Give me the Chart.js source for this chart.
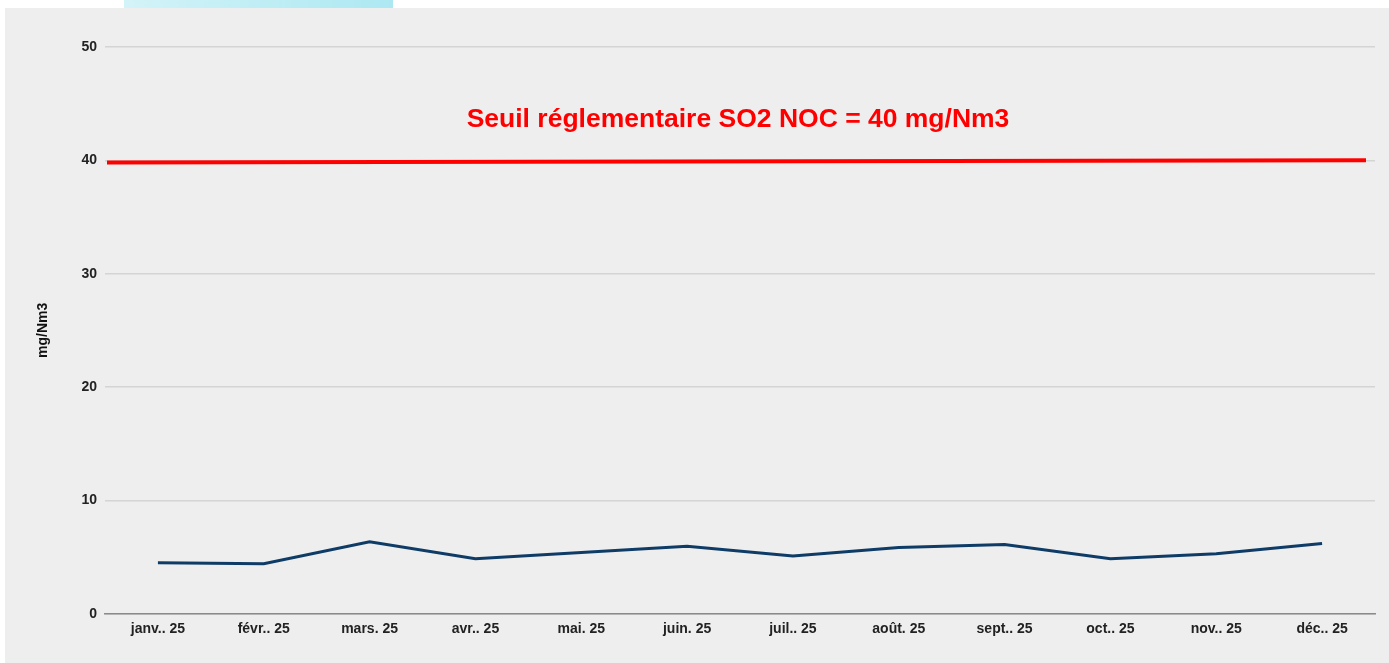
<!DOCTYPE html>
<html>
<head>
<meta charset="utf-8">
<script src="https://cdn.jsdelivr.net/npm/chart.js@4"></script>
<style>
  html, body { margin:0; padding:0; background:#fff; }
  body { width:1389px; height:663px; position:relative; overflow:hidden; }
  #tab { position:absolute; left:124px; top:0; width:269px; height:8px;
         background:linear-gradient(90deg,#d3f3f8,#ade8f2); }
  #panel { position:absolute; left:5px; top:8px; width:1384px; height:655px; background:#eeeeee; }
</style>
</head>
<body>
<div id="tab"></div>
<div id="panel"><canvas id="chart" width="1384" height="655"></canvas></div>
<script>
const months = ['janv.. 25','févr.. 25','mars. 25','avr.. 25','mai. 25','juin. 25',
                'juil.. 25','août. 25','sept.. 25','oct.. 25','nov.. 25','déc.. 25'];
const so2Values = [4.5, 4.4, 6.35, 4.85, 5.4, 5.95, 5.1, 5.85, 6.1, 4.85, 5.3, 6.2];
const thresholdValues = [39.8, 40];
const thresholdLabel = 'Seuil réglementaire SO2 NOC = 40 mg/Nm3';
const yTicks = [0, 10, 20, 30, 40, 50];

const tickFont = { family:'"Liberation Sans", Arial, sans-serif', size:14, weight:'bold' };

// threshold caption drawn inside the plot area
const captionPlugin = {
  id: 'caption',
  afterDatasetsDraw(chart){
    const {ctx, chartArea, scales} = chart;
    ctx.save();
    ctx.font = 'bold 26.5px "Liberation Sans", Arial, sans-serif';
    ctx.fillStyle = '#ff0000';
    ctx.textAlign = 'center';
    ctx.textBaseline = 'middle';
    ctx.fillText(thresholdLabel, (chartArea.left + chartArea.right)/2 - 2, scales.y.getPixelForValue(43.6));
    ctx.restore();
  }
};

new Chart(document.getElementById('chart'), {
  type: 'line',
  data: {
    labels: months,
    datasets: [{
      data: so2Values,
      borderColor: '#0f3c66',
      borderWidth: 3,
      pointRadius: 0,
      tension: 0,
      xAxisID: 'x'
    }, {
      data: thresholdValues.map((v,i)=>({x:i, y:v})),
      borderColor: '#ff0000',
      borderWidth: 4,
      pointRadius: 0,
      xAxisID: 'x2'
    }]
  },
  options: {
    responsive: false,
    animation: false,
    layout: { padding: { top:39, right:14, bottom:18.5, left:0 } },
    plugins: { legend:{ display:false }, tooltip:{ enabled:false } },
    scales: {
      x: {
        offset: true,
        grid: { display:false, drawTicks:false },
        border: { display:true, color:'#8a8a8a', width:1.5 },
        ticks: { color:'#222', font:tickFont, padding:7, maxRotation:0, autoSkip:false }
      },
      x2: {
        type: 'linear', display: false,
        min: -0.00159, max: 1.00715
      },
      y: {
        min: 0, max: 50,
        afterBuildTicks: s => { s.ticks = yTicks.map(v=>({value:v})); },
        afterFit: s => { s.width = 100; },
        grid: { color:'#d4d4d4', lineWidth:1.5, drawTicks:false },
        border: { display:false },
        ticks: { color:'#222', font:tickFont, padding:8 },
        title: { display:true, text:'mg/Nm3', color:'#111',
                 font:{ family:'"Liberation Sans", Arial, sans-serif', size:14, weight:'bold' },
                 padding:{ top:30, bottom:0 } }
      }
    }
  },
  plugins: [captionPlugin]
});
</script>
</body>
</html>
